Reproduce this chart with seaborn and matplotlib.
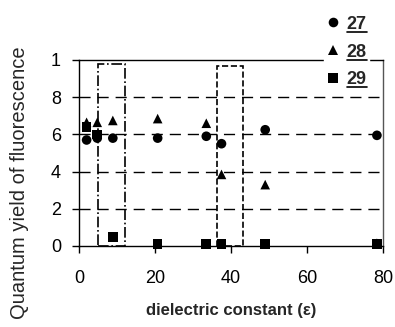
import matplotlib
matplotlib.use("Agg")
import matplotlib.pyplot as plt
import seaborn as sns
import pandas as pd
from matplotlib.patches import Rectangle
from matplotlib.lines import Line2D

# ---- data ----
epsilon = [2.0, 4.8, 8.9, 20.7, 33.5, 37.5, 49.0, 78.4]
q27 = [5.7, 5.8, 5.8, 5.8, 5.9, 5.5, 6.25, 5.95]
q28 = [6.65, 6.65, 6.75, 6.85, 6.6, 3.85, 3.3, 0.15]
q29 = [6.4, 6.0, 0.5, 0.1, 0.1, 0.1, 0.1, 0.1]
series_names = ["27", "28", "29"]
x_ticks = [0, 20, 40, 60, 80]
y_ticks = [0, 2, 4, 6, 8, 10]
y_tick_labels = ["0", "2", "4", "6", "8", "1"]
box1 = (5.1, 12.2, 9.8)   # x0, x1, top
box2 = (36.2, 43.2, 9.7)

df = pd.DataFrame({
    "eps": epsilon * 3,
    "q": q27 + q28 + q29,
    "compound": [series_names[0]] * len(q27) + [series_names[1]] * len(q28) + [series_names[2]] * len(q29),
})

sns.set_theme(style="white")
plt.rcParams["font.family"] = ["Liberation Sans", "DejaVu Sans"]

fig = plt.figure(figsize=(3.95, 3.27), dpi=100)
ax = fig.add_axes([79 / 395, 1 - 246 / 327, 304 / 395, 186 / 327])

sns.scatterplot(data=df, x="eps", y="q", hue="compound", style="compound",
                markers={"27": "o", "28": "^", "29": "s"},
                palette={"27": "black", "28": "black", "29": "black"},
                s=48, edgecolor="black", linewidth=0, ax=ax, zorder=5, clip_on=False)

ax.set_xlim(0, 80)
ax.set_ylim(0, 10)
ax.set_xticks(x_ticks)
ax.set_yticks(y_ticks)
ax.set_yticklabels(y_tick_labels)
ax.tick_params(axis="both", which="both", direction="out", length=5, width=1,
               color="black", labelsize=13, labelcolor="black", bottom=True, left=True)
ax.tick_params(axis="x", pad=12)
ax.tick_params(axis="y", pad=8)

for yv in y_ticks[1:-1]:
    ax.axhline(yv, color="black", lw=1, ls=(0, (8, 5)), zorder=1)

for side in ["left", "bottom", "top"]:
    ax.spines[side].set_color("black")
    ax.spines[side].set_linewidth(1)
ax.spines["right"].set_color("#555555")
ax.spines["right"].set_linewidth(1)

ax.add_patch(Rectangle((box1[0], 0), box1[1] - box1[0], box1[2], fill=False,
                       ec="black", lw=1.2, ls="-.", zorder=3))
ax.add_patch(Rectangle((box2[0], 0), box2[1] - box2[0], box2[2], fill=False,
                       ec="black", lw=1.2, ls="--", zorder=3))

ax.set_xlabel("dielectric constant (\u03b5)", fontsize=12, fontweight="bold", labelpad=12)
ax.set_ylabel("")
fig.text(20 / 395, 1 - 183 / 327, "Quantum yield of fluorescence", rotation=90,
         ha="center", va="center", fontsize=14.5)

sns.move_legend(ax, "upper left", bbox_to_anchor=(324 / 395, 1 - 13 / 327),
                bbox_transform=fig.transFigure, title=None, frameon=True,
                fontsize=13, labelspacing=0.6, handlelength=0.7, handletextpad=0.4,
                borderpad=0.15, borderaxespad=0, markerscale=1.0)
leg = ax.get_legend()
leg.get_frame().set_facecolor("white")
leg.get_frame().set_edgecolor("white")
leg.get_frame().set_alpha(1)
leg.set_zorder(10)
for t in leg.get_texts():
    t.set_fontweight("bold")

fig.canvas.draw()
W, H = fig.bbox.width, fig.bbox.height
for t in leg.get_texts():
    bb = t.get_window_extent()
    yline = bb.y0 + 1
    fig.add_artist(Line2D([bb.x0 / W, bb.x1 / W], [yline / H, yline / H],
                          transform=fig.transFigure, color="black", lw=1.2, zorder=11))

fig.savefig("out.png", dpi=100, facecolor="white")
